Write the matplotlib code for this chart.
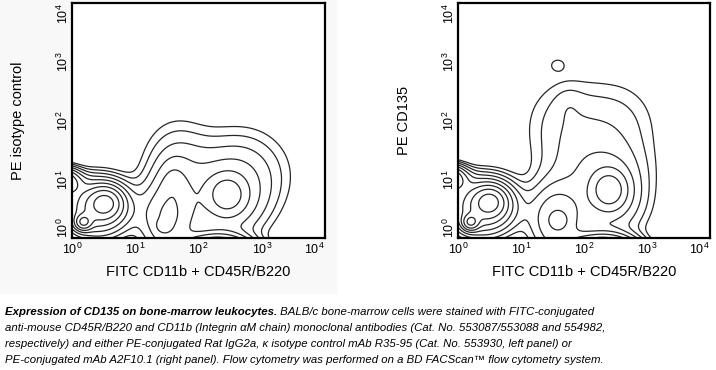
import numpy as np
import matplotlib.pyplot as plt
from matplotlib.patches import Rectangle

plt.rcParams['font.family'] = ['Liberation Sans', 'DejaVu Sans']
plt.rcParams['mathtext.fontset'] = 'custom'
plt.rcParams['mathtext.rm'] = 'Liberation Sans'
plt.rcParams['mathtext.it'] = 'Liberation Sans:italic'

# cell populations, in decades (log10 of fluorescence)
# columns: FITC centre, PE centre, FITC spread, PE spread, weight
left_pops = np.array([
    [0.40, 0.50, 0.30, 0.27, 0.35],    # double negative cells
    [0.53, 0.60, 0.15, 0.15, 0.40],
    [0.18, 0.27, 0.08, 0.08, 0.45],
    [-0.25, 0.95, 0.20, 0.13, 0.60],   # piled on the FITC axis
    [1.50, 0.30, 0.28, 0.40, 0.12],    # dim population
    [1.44, 0.20, 0.07, 0.07, 0.05],
    [1.60, 0.95, 0.15, 0.25, 0.03],
    [2.45, 0.74, 0.18, 0.20, 0.10],    # bright population
    [2.45, 0.60, 0.38, 0.42, 0.06],
    [2.30, -0.40, 0.30, 0.20, 1.50],   # piled on the PE axis
    [1.65, 1.10, 0.35, 0.55, 0.04],    # diffuse cloud
    [2.65, 1.10, 0.50, 0.50, 0.04],
])
right_pops = np.array([
    [0.40, 0.52, 0.30, 0.27, 0.35],
    [0.51, 0.62, 0.15, 0.15, 0.40],
    [0.20, 0.27, 0.08, 0.08, 0.45],
    [-0.25, 1.00, 0.20, 0.13, 0.60],
    [1.55, 0.30, 0.28, 0.40, 0.12],
    [1.60, 0.30, 0.10, 0.10, 0.04],
    [2.40, 0.82, 0.17, 0.20, 0.12],
    [2.40, 0.65, 0.38, 0.42, 0.06],
    [2.30, -0.40, 0.30, 0.20, 1.50],
    [1.70, 1.90, 0.45, 0.55, 0.025],   # CD135+ cloud
    [2.55, 1.90, 0.45, 0.55, 0.0215],
    [2.20, 1.20, 0.50, 0.35, 0.025],
    [1.75, 2.30, 0.15, 0.20, 0.006],
    [1.58, 2.95, 0.10, 0.09, 0.0125],  # small island
])
y_labels = ['PE isotype control', 'PE CD135']
x_label = 'FITC CD11b + CD45R/B220'
decades = [0, 1, 2, 3, 4]

caption_bold = 'Expression of CD135 on bone-marrow leukocytes.'
caption_lines = [
    ' BALB/c bone-marrow cells were stained with FITC-conjugated',
    'anti-mouse CD45R/B220 and CD11b (Integrin \u03b1M chain) monoclonal antibodies (Cat. No. 553087/553088 and 554982,',
    'respectively) and either PE-conjugated Rat IgG2a, \u03ba isotype control mAb R35-95 (Cat. No. 553930, left panel) or',
    'PE-conjugated mAb A2F10.1 (right panel). Flow cytometry was performed on a BD FACScan\u2122 flow cytometry system.',
]


def density(pops, u, v):
    z = np.zeros_like(u)
    for cu, cv, su, sv, w in pops:
        z += w * np.exp(-0.5 * (((u - cu) / su) ** 2 + ((v - cv) / sv) ** 2))
    return z


fig = plt.figure(figsize=(7.16, 3.70), dpi=100)
fig.patches.append(Rectangle((0, 1 - 293 / 370), 336 / 716, 293 / 370,
                             transform=fig.transFigure, color='#f8f8f8', zorder=-10))

g = np.linspace(0, 4, 300)
U, V = np.meshgrid(g, g)
levels = 0.012 * 1.6 ** np.arange(12)

boxes = [[72 / 716, 1 - 238 / 370, 253 / 716, 235 / 370],
         [458 / 716, 1 - 238 / 370, 252 / 716, 235 / 370]]
for box, pops, ylab in zip(boxes, [left_pops, right_pops], y_labels):
    ax = fig.add_axes(box)
    ax.set_facecolor('white')
    Z = density(pops, U, V)
    ax.contour(10 ** U, 10 ** V, Z, levels=levels, colors='#262626', linewidths=0.9)
    ax.set_xscale('log')
    ax.set_yscale('log')
    ax.set_xlim(1, 1e4)
    ax.set_ylim(1, 1e4)
    ax.set_xticks([10 ** d for d in decades])
    ax.set_yticks([10 ** d for d in decades])
    ax.set_xticklabels(['$10^{%d}$' % d for d in decades], fontsize=9)
    ax.set_yticklabels(['$10^{%d}$' % d for d in decades], fontsize=9, rotation=90)
    ax.minorticks_off()
    ax.tick_params(axis='x', length=0, pad=3)
    ax.tick_params(axis='y', length=0, pad=1)
    ylbls = ax.get_yticklabels()
    for lbl in ylbls:
        lbl.set_va('center')
    ylbls[0].set_va('bottom')
    ylbls[-1].set_va('top')
    ax.get_xticklabels()[-1].set_ha('right')
    for s in ax.spines.values():
        s.set_linewidth(1.6)
    ax.set_xlabel(x_label, fontsize=10.5, va='center')
    ax.xaxis.set_label_coords(0.5, -34 / 235)
    ax.set_ylabel(ylab, fontsize=10.5, va='center')
    ax.yaxis.set_label_coords(-54 / 253, 0.5)

cap_font = ['Liberation Sans', 'DejaVu Sans']
cap_size = 8.2
t = fig.text(5 / 716, 1 - 312 / 370, caption_bold, fontsize=cap_size, style='italic', weight='bold',
             family=cap_font, va='center')
fig.canvas.draw()
bb = t.get_window_extent()
fig.text(bb.x1 / 716, 1 - 312 / 370, caption_lines[0], fontsize=cap_size, style='italic',
         family=cap_font, va='center')
for i, line in enumerate(caption_lines[1:]):
    fig.text(5 / 716, 1 - (328 + 16 * i) / 370, line, fontsize=cap_size, style='italic',
             family=cap_font, va='center')

fig.savefig('out.png', dpi=100)
